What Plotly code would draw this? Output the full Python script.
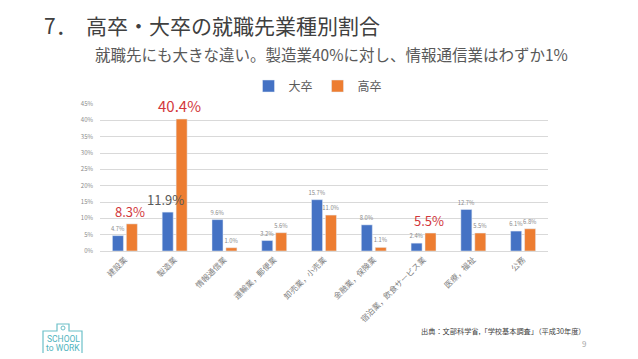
import plotly.graph_objects as go

categories = ["建設業", "製造業", "情報通信業", "運輸業，郵便業", "卸売業，小売業",
              "金融業，保険業", "宿泊業，飲食サービス業", "医療，福祉", "公務"]
daisotsu = [4.7, 11.9, 9.6, 3.2, 15.7, 8.0, 2.4, 12.7, 6.1]
kousotsu = [8.3, 40.4, 1.0, 5.6, 11.0, 1.1, 5.5, 5.5, 6.8]
y_ticks = [0, 5, 10, 15, 20, 25, 30, 35, 40, 45]
# highlighted (large) labels: category indices
highlight_dai = [1]
highlight_kou = [0, 1, 6]

FONT = "Noto Sans CJK JP"
BLUE = "#4472C4"
ORANGE = "#ED7D31"
RED = "#D2373B"
TEAL = "#6cc0c8"

def small_text(vals, skip):
    return ["" if i in skip else f"{v:.1f}%" for i, v in enumerate(vals)]

fig = go.Figure()
fig.add_trace(go.Bar(name="大卒", x=categories, y=daisotsu, marker_color=BLUE,
                     text=small_text(daisotsu, highlight_dai), textposition="outside",
                     textfont=dict(size=5.8, color="#8a8a8a", family=FONT),
                     constraintext="none", cliponaxis=False))
fig.add_trace(go.Bar(name="高卒", x=categories, y=kousotsu, marker_color=ORANGE,
                     text=small_text(kousotsu, highlight_kou), textposition="outside",
                     textfont=dict(size=5.8, color="#8a8a8a", family=FONT),
                     constraintext="none", cliponaxis=False))

annotations = []
for i in highlight_dai:
    annotations.append(dict(x=categories[i], y=daisotsu[i], xref="x", yref="y",
                            text=f"{daisotsu[i]:.1f}%", showarrow=False, xshift=-9,
                            yanchor="bottom", yshift=1,
                            font=dict(size=13, color="#595959", family=FONT)))
for i in highlight_kou:
    sz = 15 if kousotsu[i] > 30 else 13
    annotations.append(dict(x=categories[i], y=kousotsu[i], xref="x", yref="y",
                            text=f"{kousotsu[i]:.1f}%", showarrow=False, xshift=5,
                            yanchor="bottom", yshift=1,
                            font=dict(size=sz, color=RED, family=FONT)))

# page has an 8px body margin; figure sized to fit the window
OFF = 8
W, H = 630, 351
L, R, T, B = 92, 90, 96, 108
pw, ph = W - L - R, H - T - B

def px(xs):
    return (xs - OFF - L) / pw

def py(ys):
    return 1 - (ys - OFF - T) / ph

annotations += [
    dict(x=px(42), y=py(25), xref="paper", yref="paper", xanchor="left", yanchor="middle",
         text="7．  高卒・大卒の就職先業種別割合", showarrow=False,
         font=dict(size=21, color="#404040", family=FONT)),
    dict(x=px(93), y=py(54), xref="paper", yref="paper", xanchor="left", yanchor="middle",
         text="就職先にも大きな違い。製造業40%に対し、情報通信業はわずか1%", showarrow=False,
         font=dict(size=15.5, color="#595959", family=FONT)),
    dict(x=px(588), y=py(331), xref="paper", yref="paper", xanchor="right", yanchor="middle",
         text="出典：文部科学省,「学校基本調査」（平成30年度）", showarrow=False,
         font=dict(size=7.2, color="#404040", family=FONT)),
    dict(x=px(588), y=py(343), xref="paper", yref="paper", xanchor="right", yanchor="middle",
         text="9", showarrow=False, font=dict(size=8, color="#a6a6a6", family=FONT)),
    dict(x=px(63), y=py(339), xref="paper", yref="paper", xanchor="center", yanchor="middle",
         text="SCHOOL", showarrow=False, font=dict(size=8.5, color="#4fb3bd", family="Roboto")),
    dict(x=px(63), y=py(347.5), xref="paper", yref="paper", xanchor="center", yanchor="middle",
         text="to WORK", showarrow=False, font=dict(size=8.5, color="#4fb3bd", family="Roboto")),
]

shapes = [
    dict(type="path", xref="paper", yref="paper",
         path=(f"M {px(43)} {py(353)} L {px(43)} {py(331)} L {px(57)} {py(331)} "
               f"L {px(57)} {py(324)} L {px(69)} {py(324)} L {px(69)} {py(331)} "
               f"L {px(82)} {py(331)} L {px(82)} {py(353)}"),
         line=dict(color=TEAL, width=1.2)),
    dict(type="circle", xref="paper", yref="paper",
         x0=px(61), x1=px(65), y0=py(330), y1=py(326),
         line=dict(color=TEAL, width=1)),
]

fig.update_layout(
    width=W, height=H,
    margin=dict(l=L, r=R, t=T, b=B, pad=0, autoexpand=False),
    paper_bgcolor="white", plot_bgcolor="white",
    barmode="group", bargap=0.44, bargroupgap=0.21,
    font=dict(family=FONT, color="#595959"),
    showlegend=True,
    legend=dict(orientation="h", x=px(318), xanchor="center", y=py(86), yanchor="middle",
                font=dict(size=12, color="#595959", family=FONT),
                itemwidth=30, traceorder="normal", tracegroupgap=0),
    xaxis=dict(tickangle=-45, tickfont=dict(size=8, color="#7f7f7f", family=FONT),
               showline=True, linecolor="#d9d9d9", linewidth=1, ticks="",
               showgrid=False, automargin=False),
    yaxis=dict(range=[0, 45], tickvals=y_ticks, ticktext=[f"{v}%" for v in y_ticks],
               tickfont=dict(size=6, color="#8a8a8a", family=FONT),
               showgrid=True, gridcolor="#d9d9d9", gridwidth=1, zeroline=False,
               ticks="", ticklabelstandoff=6, automargin=False),
    annotations=annotations,
    shapes=shapes,
)

fig.write_html("out.html")
